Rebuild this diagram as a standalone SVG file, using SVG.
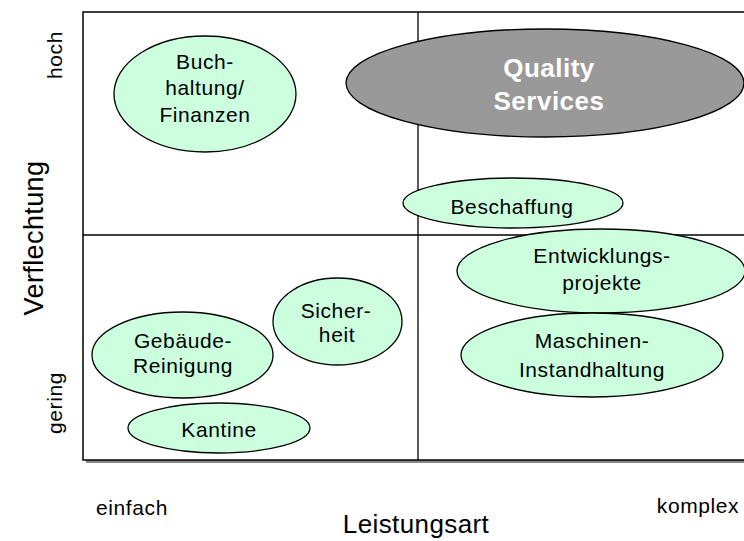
<svg xmlns="http://www.w3.org/2000/svg" width="744" height="541" viewBox="0 0 744 541">
<style>
text{font-family:"Liberation Sans",Arial,sans-serif;fill:#000;text-anchor:middle}
.t{font-size:21px;letter-spacing:0.6px}
.big{font-size:27px;letter-spacing:0.4px}
.q{font-size:26px;font-weight:bold;fill:#fff;letter-spacing:0.5px}
.g{fill:#ccffdd;stroke:#000;stroke-width:1.3}
.d{fill:#999999;stroke:#000;stroke-width:1.3}
.ln{stroke:#000;stroke-width:1.3;fill:none}
</style>
<g id="frame">
<rect x="86" y="15" width="700" height="448" fill="#888"/>
<rect x="83" y="12" width="700" height="448" fill="#fff" stroke="#000" stroke-width="1.5"/>
</g>
<g id="connectors">
<line class="ln" x1="418" y1="12" x2="418" y2="460"/>
<line class="ln" x1="83" y1="235" x2="744" y2="235"/>
</g>
<g id="n-buchhaltung">
<ellipse class="g" cx="205" cy="94" rx="91" ry="58"/>
<text class="t" x="205" y="69">Buch-</text>
<text class="t" x="205" y="95">haltung/</text>
<text class="t" x="205" y="122">Finanzen</text>
</g>
<g id="n-quality">
<ellipse class="d" cx="545" cy="83" rx="199" ry="54"/>
<text class="q" x="549" y="77">Quality</text>
<text class="q" x="549" y="110">Services</text>
</g>
<g id="n-beschaffung">
<ellipse class="g" cx="513" cy="203" rx="110" ry="25"/>
<text class="t" x="512" y="214">Beschaffung</text>
</g>
<g id="n-entwicklung">
<ellipse class="g" cx="601" cy="271" rx="144" ry="42"/>
<text class="t" x="602" y="263">Entwicklungs-</text>
<text class="t" x="602" y="290">projekte</text>
</g>
<g id="n-maschinen">
<ellipse class="g" cx="592" cy="355" rx="131" ry="42"/>
<text class="t" x="592" y="348">Maschinen-</text>
<text class="t" x="592" y="377">Instandhaltung</text>
</g>
<g id="n-sicherheit">
<ellipse class="g" cx="337.5" cy="321.5" rx="64.5" ry="43.5"/>
<text class="t" x="336" y="318">Sicher-</text>
<text class="t" x="337" y="342">heit</text>
</g>
<g id="n-gebaeude">
<ellipse class="g" cx="182.5" cy="355" rx="90.5" ry="43"/>
<text class="t" x="183" y="348">Gebäude-</text>
<text class="t" x="183" y="373">Reinigung</text>
</g>
<g id="n-kantine">
<ellipse class="g" cx="219" cy="428" rx="91" ry="25"/>
<text class="t" x="219" y="437">Kantine</text>
</g>
<g id="labels">
<text class="t" transform="translate(62,55) rotate(-90)">hoch</text>
<text class="t" transform="translate(62,403) rotate(-90)">gering</text>
<text class="big" transform="translate(43,238) rotate(-90)">Verflechtung</text>
<text class="t" x="132" y="515">einfach</text>
<text class="t" x="698" y="513">komplex</text>
<text class="big" style="font-size:26px" x="416" y="533">Leistungsart</text>
</g>
</svg>
